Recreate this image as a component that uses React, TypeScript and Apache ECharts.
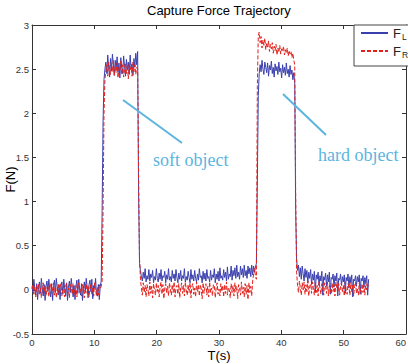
import React, { useEffect, useRef } from "react";
import * as echarts from "echarts";

// Sampling step of the recorded trajectory (s)
const SAMPLE_STEP = 0.15;

// F_L (blue) segments
const fLIdle1 = [
  0.04, -0.03, 0.12, 0.02, -0.06, 0.07, -0.11, 0.03, 0.09, -0.04,
  0.13, 0.01, -0.07, 0.06, -0.12, 0.04, 0.10, -0.02, 0.12, 0.00,
  -0.08, 0.07, -0.12, 0.02, 0.11, -0.03, 0.13, 0.03, -0.06, 0.06,
  -0.11, 0.05, 0.09, -0.05, 0.12, 0.01, -0.07, 0.08, -0.12, 0.03,
  0.10, -0.03, 0.13, 0.02, -0.08, 0.05, -0.11, 0.04, 0.11, -0.04,
  0.12, 0.00, -0.06, 0.07, -0.12, 0.02, 0.09, -0.03, 0.13, 0.03,
  -0.09, 0.06, 0.11, -0.02, 0.12, -0.10, 0.05, 0.02, 0.13, -0.06,
  -0.07, 0.06, -0.11, 0.04, 0.10,
];
const fLSoft = [
  0.9, 1.9, 2.38, 2.5,
  2.58, 2.45, 2.66, 2.52, 2.41, 2.62, 2.48, 2.67, 2.55, 2.43,
  2.6, 2.5, 2.64, 2.46, 2.57, 2.4, 2.63, 2.51, 2.45, 2.65,
  2.53, 2.42, 2.61, 2.49, 2.58, 2.44, 2.66, 2.5, 2.56, 2.43,
  2.62, 2.52, 2.68, 2.55, 2.7,
  1.1, 0.3,
];
const fLBetween = [
  0.22, 0.15, 0.10, 0.20, 0.13, 0.24, 0.09, 0.16, 0.12, 0.23,
  0.10, 0.18, 0.14, 0.22, 0.08, 0.15, 0.11, 0.24, 0.13, 0.09,
  0.19, 0.12, 0.23, 0.10, 0.16, 0.14, 0.21, 0.08, 0.17, 0.12,
  0.24, 0.11, 0.15, 0.09, 0.22, 0.13, 0.18, 0.10, 0.23, 0.14,
  0.08, 0.19, 0.12, 0.22, 0.10, 0.16, 0.13, 0.24, 0.09, 0.15,
  0.11, 0.21, 0.14, 0.08, 0.23, 0.12, 0.17, 0.10, 0.22, 0.13,
  0.09, 0.18, 0.11, 0.24, 0.14, 0.16, 0.08, 0.21, 0.12, 0.19,
  0.10, 0.23, 0.13, 0.15, 0.09, 0.22, 0.11, 0.17, 0.14, 0.24,
  0.08, 0.18, 0.12, 0.21, 0.10, 0.25, 0.13, 0.16, 0.11, 0.23,
  0.14, 0.20, 0.10, 0.26, 0.12, 0.18, 0.15, 0.27, 0.11, 0.22,
  0.16, 0.25, 0.13, 0.28, 0.15, 0.20, 0.12, 0.27, 0.17, 0.24,
  0.14, 0.28, 0.16, 0.22, 0.13, 0.27, 0.18, 0.25, 0.15, 0.28,
  0.17, 0.27, 0.20, 0.26, 0.30,
];
const fLHard = [
  1.2, 2.2, 2.45,
  2.55, 2.47, 2.6, 2.5, 2.44, 2.58, 2.52, 2.46, 2.57, 2.42,
  2.54, 2.49, 2.59, 2.45, 2.52, 2.41, 2.56, 2.48, 2.53, 2.44,
  2.58, 2.47, 2.51, 2.4, 2.55, 2.46, 2.52, 2.43, 2.57, 2.45,
  2.5, 2.41, 2.54, 2.44, 2.49, 2.38, 2.46, 2.34,
  0.9,
];
const fLTail = [
  0.35, 0.22, 0.28, 0.15, 0.25, 0.12, 0.27, 0.18, 0.1, 0.24,
  0.14, 0.22, 0.08, 0.2, 0.13, 0.23, 0.06, 0.18, 0.11, 0.21,
  -0.03, 0.17, 0.12, 0.2, 0.05, 0.16, 0.1, 0.21, -0.06, 0.15,
  0.11, 0.19, 0.04, 0.17, 0.09, 0.2, -0.05, 0.14, 0.12, 0.18,
  0.03, 0.16, 0.1, 0.19, -0.07, 0.13, 0.11, 0.18, 0.05, 0.15,
  0.09, 0.17, -0.04, 0.14, 0.1, 0.18, 0.02, 0.15, 0.08, 0.17,
  -0.08, 0.12, 0.1, 0.16, 0.04, 0.15, 0.09, 0.17, -0.05, 0.13,
  0.1, 0.16, 0.03, 0.14, 0.08, 0.16, -0.06, 0.12,
];

// F_R (red) segments
const fRIdle1 = [
  0.01, 0.06, -0.05, 0.03, -0.08, 0.05, 0.00, 0.07, -0.06, 0.02,
  -0.09, 0.04, 0.08, -0.03, 0.05, -0.07, 0.02, 0.06, -0.08, 0.03,
  0.07, -0.04, 0.01, 0.08, -0.06, 0.04, -0.09, 0.02, 0.06, -0.05,
  0.03, 0.07, -0.07, 0.01, 0.05, -0.08, 0.04, 0.08, -0.04, 0.02,
  -0.09, 0.06, 0.03, -0.05, 0.07, -0.06, 0.01, 0.05, -0.08, 0.04,
  0.08, -0.03, 0.02, -0.07, 0.06, 0.00, -0.09, 0.05, 0.07, -0.04,
  0.05, -0.08, 0.02, 0.07, -0.05, 0.03, -0.07, 0.08, 0.00, -0.06,
  0.03, -0.06, 0.06, 0.01, 0.04,
];
const fRSoft = [
  0.1, 0.9, 2.0, 2.38,
  2.48, 2.55, 2.42, 2.58, 2.5, 2.44, 2.56, 2.47, 2.6, 2.43,
  2.53, 2.46, 2.57, 2.4, 2.52, 2.49, 2.59, 2.44, 2.55, 2.41,
  2.5, 2.57, 2.45, 2.54, 2.39, 2.56, 2.48, 2.53, 2.42, 2.58,
  2.47, 2.55, 2.44, 2.52, 2.5,
  1.3, 0.35,
];
const fRBetween = [
  0.12, 0.02, -0.06, 0.08, -0.03, 0.05, -0.08, 0.06, 0.01, -0.07,
  0.09, -0.04, 0.04, -0.09, 0.07, 0.00, -0.06, 0.08, -0.02, 0.05,
  -0.08, 0.03, 0.09, -0.05, 0.06, -0.10, 0.02, 0.07, -0.04, 0.04,
  -0.07, 0.08, 0.01, -0.06, 0.06, -0.03, 0.09, -0.08, 0.03, 0.05,
  -0.05, 0.07, -0.09, 0.02, 0.08, -0.04, 0.05, -0.07, 0.09, 0.00,
  -0.06, 0.06, -0.03, 0.08, -0.09, 0.04, 0.07, -0.05, 0.02, -0.08,
  0.09, -0.02, 0.05, -0.07, 0.06, 0.01, -0.10, 0.08, -0.04, 0.03,
  0.07, -0.06, 0.04, -0.08, 0.09, -0.03, 0.02, -0.07, 0.06, 0.05,
  -0.09, 0.03, 0.08, -0.05, 0.01, -0.07, 0.07, -0.02, 0.05, -0.08,
  0.06, -0.04, 0.09, -0.06, 0.03, 0.00, -0.09, 0.07, -0.03, 0.05,
  -0.07, 0.08, -0.02, 0.04, -0.10, 0.06, 0.02, -0.06, 0.09, -0.04,
  0.03, -0.08, 0.07, -0.05, 0.05, -0.11, 0.08, -0.03, 0.04, -0.07,
  0.10, 0.18, 0.24, 0.15, 0.12,
];
const fRHard = [
  2.3, 2.88, 2.92,
  2.8, 2.87, 2.74, 2.83, 2.77, 2.85, 2.72, 2.8, 2.75, 2.82,
  2.7, 2.78, 2.73, 2.8, 2.68, 2.76, 2.71, 2.78, 2.66, 2.74,
  2.69, 2.77, 2.67, 2.73, 2.7, 2.76, 2.66, 2.72, 2.68, 2.74,
  2.65, 2.71, 2.67, 2.7, 2.63, 2.68, 2.6, 2.55,
  1.1,
];
const fRTail = [
  0.2, 0.05, -0.03, 0.1, 0.02, -0.06, 0.08, 0.0, 0.09, -0.05,
  0.06, -0.02, 0.1, -0.07, 0.04, 0.07, -0.04, 0.09, 0.01, -0.06,
  0.08, -0.03, 0.05, -0.07, 0.09, 0.02, -0.05, 0.07, 0.0, -0.06,
  0.08, 0.03, -0.04, 0.09, -0.07, 0.05, 0.01, -0.05, 0.08, -0.02,
  0.06, -0.07, 0.09, 0.02, -0.04, 0.07, -0.06, 0.04, 0.08, -0.03,
  0.05, -0.07, 0.09, 0.0, -0.05, 0.07, 0.03, -0.06, 0.08, -0.02,
  0.06, -0.07, 0.04, 0.09, -0.04, 0.02, -0.06, 0.08, 0.01, -0.05,
  0.07, -0.03, 0.05, -0.06, 0.08, 0.0, 0.06, 0.04,
];

const fL = [...fLIdle1, ...fLSoft, ...fLBetween, ...fLHard, ...fLTail];
const fR = [...fRIdle1, ...fRSoft, ...fRBetween, ...fRHard, ...fRTail];
const times = fL.map((_, i) => +(i * SAMPLE_STEP).toFixed(2));

const X_MIN = 0, X_MAX = 60, X_STEP = 10;
const Y_MIN = -0.5, Y_MAX = 3, Y_STEP = 0.5;

const TITLE = "Capture Force Trajectory";
const X_NAME = "T(s)";
const Y_NAME = "F(N)";
const SERIES_NAMES = ["F_L", "F_R"];
const ANNOT_COLOR = "#5BB5DF";

export default function App() {
  const ref = useRef<HTMLDivElement>(null);
  useEffect(() => {
    if (!ref.current) return;
    const chart = echarts.init(ref.current, undefined, { renderer: "svg" });
    const axisLine = { show: true, onZero: false, lineStyle: { color: "#333", width: 1 } };
    const axisTick = { show: true, inside: true, length: 4, lineStyle: { color: "#333" } };
    const xCommon = { min: X_MIN, max: X_MAX, interval: X_STEP, axisLine, axisTick, splitLine: { show: false } };
    const yCommon = { min: Y_MIN, max: Y_MAX, interval: Y_STEP, axisLine, axisTick, splitLine: { show: false } };
    const fontSans = "Liberation Sans, Arial, sans-serif";
    chart.setOption({
      animation: false,
      backgroundColor: "#fff",
      title: {
        text: TITLE,
        left: 147,
        top: 4,
        padding: 0,
        textStyle: { fontFamily: fontSans, fontSize: 13, fontWeight: "normal", color: "#000" },
      },
      grid: { left: 32, right: 2, top: 25, bottom: 30, containLabel: false, outerBoundsMode: "none" },
      legend: {
        data: SERIES_NAMES,
        orient: "vertical",
        left: 354,
        top: 25,
        padding: [1, 0, 5, 6],
        itemGap: 3,
        itemWidth: 27,
        itemHeight: 14,
        z: 6,
        itemStyle: { color: "rgba(0,0,0,0)", borderColor: "rgba(0,0,0,0)", borderWidth: 0 },
        formatter: (name: string) => `{m|F}{s|${name.slice(2)}}`,
        textStyle: {
          color: "#222",
          rich: {
            m: { fontFamily: fontSans, fontSize: 13, lineHeight: 16, color: "#222" },
            s: { fontFamily: fontSans, fontSize: 8.5, lineHeight: 16, color: "#222", verticalAlign: "bottom", padding: [6, 0, 0, 1] },
          },
        },
      },
      xAxis: [
        {
          type: "value",
          position: "bottom",
          ...xCommon,
          name: X_NAME,
          nameLocation: "middle",
          nameGap: 15,
          nameMoveOverlap: false,
          nameTextStyle: { fontFamily: fontSans, fontSize: 13, color: "#000" },
          axisLabel: { fontFamily: fontSans, fontSize: 9.5, color: "#333", margin: 3, alignMaxLabel: "right" },
        },
        { type: "value", position: "top", ...xCommon, axisLabel: { show: false } },
      ],
      yAxis: [
        {
          type: "value",
          position: "left",
          ...yCommon,
          name: Y_NAME,
          nameLocation: "middle",
          nameGap: 15,
          nameMoveOverlap: false,
          nameTextStyle: { fontFamily: fontSans, fontSize: 13, color: "#000" },
          axisLabel: { fontFamily: fontSans, fontSize: 9.5, color: "#333", margin: 3 },
        },
        { type: "value", position: "right", ...yCommon, axisLabel: { show: false } },
      ],
      series: [
        {
          name: SERIES_NAMES[0],
          type: "line",
          symbol: "none",
          data: times.map((t, i) => [t, fL[i]]),
          lineStyle: { color: "#3A3FAF", width: 1 },
          itemStyle: { color: "#3A3FAF" },
          z: 2,
        },
        {
          name: SERIES_NAMES[1],
          type: "line",
          symbol: "none",
          data: times.map((t, i) => [t, fR[i]]),
          lineStyle: { color: "#E3211C", width: 1, type: [4, 2] },
          itemStyle: { color: "#E3211C" },
          z: 3,
        },
      ],
      graphic: [
        {
          type: "rect",
          shape: { x: 354, y: 25, width: 80, height: 41 },
          style: { fill: "#fff", stroke: "#444", lineWidth: 1 },
          z: 5,
        },
        { type: "line", shape: { x1: 123, y1: 100, x2: 182, y2: 143 }, style: { stroke: ANNOT_COLOR, lineWidth: 2 }, z: 10 },
        { type: "line", shape: { x1: 283, y1: 94, x2: 326, y2: 135 }, style: { stroke: ANNOT_COLOR, lineWidth: 2 }, z: 10 },
        {
          type: "text",
          x: 153,
          y: 159.5,
          style: { text: "soft object", font: '18px "Liberation Serif", "Times New Roman", serif', fill: ANNOT_COLOR, verticalAlign: "middle" },
          z: 10,
        },
        {
          type: "text",
          x: 318,
          y: 154.5,
          style: { text: "hard object", font: '18px "Liberation Serif", "Times New Roman", serif', fill: ANNOT_COLOR, verticalAlign: "middle" },
          z: 10,
        },
      ],
    });
    return () => chart.dispose();
  }, []);
  return (
    <div
      ref={ref}
      style={{ position: "fixed", left: 0, top: 0, width: 408, height: 364, background: "#fff" }}
    />
  );
}
